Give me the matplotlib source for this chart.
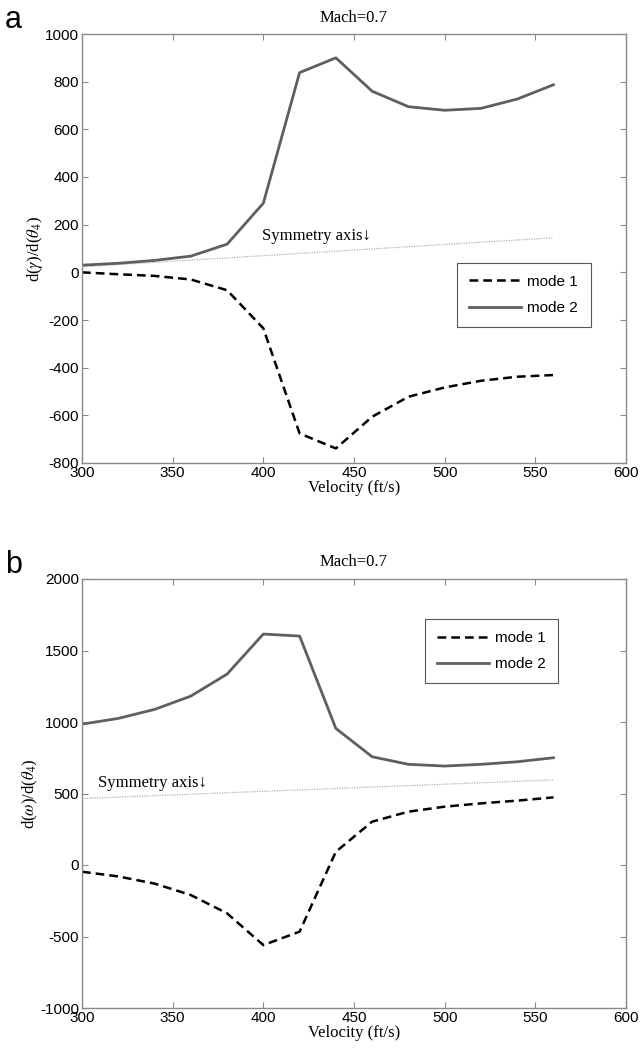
import matplotlib
matplotlib.use("Agg")
import matplotlib.pyplot as plt

# data
velocity = [300, 320, 340, 360, 380, 400, 420, 440, 460, 480, 500, 520, 540, 560]

gamma_mode1 = [0, -8, -15, -30, -75, -235, -676, -739, -606, -522, -483, -455, -438, -431]
gamma_mode2 = [30, 38, 50, 68, 118, 290, 838, 900, 760, 695, 680, 688, 727, 787]
gamma_sym_x = [300, 560]
gamma_sym_y = [23, 145]

omega_mode1 = [-47, -80, -130, -210, -338, -560, -466, 93, 303, 373, 408, 431, 450, 473]
omega_mode2 = [985, 1025, 1088, 1181, 1335, 1615, 1601, 955, 757, 704, 692, 704, 722, 750]
omega_sym_x = [300, 560]
omega_sym_y = [465, 595]

x_ticks = [300, 350, 400, 450, 500, 550, 600]
gamma_ticks = [-800, -600, -400, -200, 0, 200, 400, 600, 800, 1000]
omega_ticks = [-1000, -500, 0, 500, 1000, 1500, 2000]

plt.rcParams['font.family'] = ['Liberation Sans', 'DejaVu Sans']
plt.rcParams['mathtext.fontset'] = 'stix'
plt.rcParams['axes.unicode_minus'] = False

serif = ['Liberation Serif', 'DejaVu Serif']
frame_col = '#8a8a8a'

fig = plt.figure(figsize=(6.41, 10.55), dpi=100)
W, H = 641, 1055


def panel(top_px, letter, m1, m2, sx, sy, yticks, ylabel, sym_xy, leg_box):
    left, right, bottom = 82, 626, top_px + 429
    ax = fig.add_axes([left / W, 1 - bottom / H, (right - left) / W, 429 / H])
    ax.plot(sx, sy, color='#b0b0b0', lw=0.9, ls=(0, (1, 1)))
    ax.plot(velocity, m1, color='black', lw=1.8, ls=(0, (3.5, 2)), label='mode 1')
    ax.plot(velocity, m2, color='#5f5f5f', lw=2.0, label='mode 2')
    ax.set_xlim(300, 600)
    ax.set_ylim(yticks[0], yticks[-1])
    ax.set_xticks(x_ticks)
    ax.set_yticks(yticks)
    ax.tick_params(direction='in', top=True, right=True, length=4, width=0.8,
                   color=frame_col, labelsize=11, pad=2)
    for s in ax.spines.values():
        s.set_color(frame_col)
        s.set_linewidth(1.0)
    ax.set_xlabel('Velocity (ft/s)', family=serif, fontsize=12, labelpad=0)
    ax.set_ylabel(ylabel, family=serif, fontsize=12, labelpad=0)
    ax.set_title('Mach=0.7', family=serif, fontsize=12, pad=9)
    ax.text(sym_xy[0], sym_xy[1], 'Symmetry axis\u2193', family=serif, fontsize=12,
            va='center', ha='left')
    leg = ax.legend(loc='upper left', bbox_to_anchor=leg_box, mode='expand',
                    fancybox=False, framealpha=1, edgecolor='#555555',
                    fontsize=11, handlelength=3.4, borderpad=0.8,
                    labelspacing=0.8, handletextpad=0.4)
    leg.get_frame().set_linewidth(0.8)
    fig.text(5 / W, 1 - (top_px - 14) / H, letter, fontsize=22, va='center', ha='left')
    return ax


panel(34, 'a', gamma_mode1, gamma_mode2, gamma_sym_x, gamma_sym_y, gamma_ticks,
      r'd($\gamma$)/d($\theta_4$)', (399, 152), (0.675, 0.317, 0.275, 0.168))
panel(579, 'b', omega_mode1, omega_mode2, omega_sym_x, omega_sym_y, omega_ticks,
      r'd($\omega$)/d($\theta_4$)', (309, 573), (0.616, 0.758, 0.273, 0.167))

fig.savefig('out.png', dpi=100)
